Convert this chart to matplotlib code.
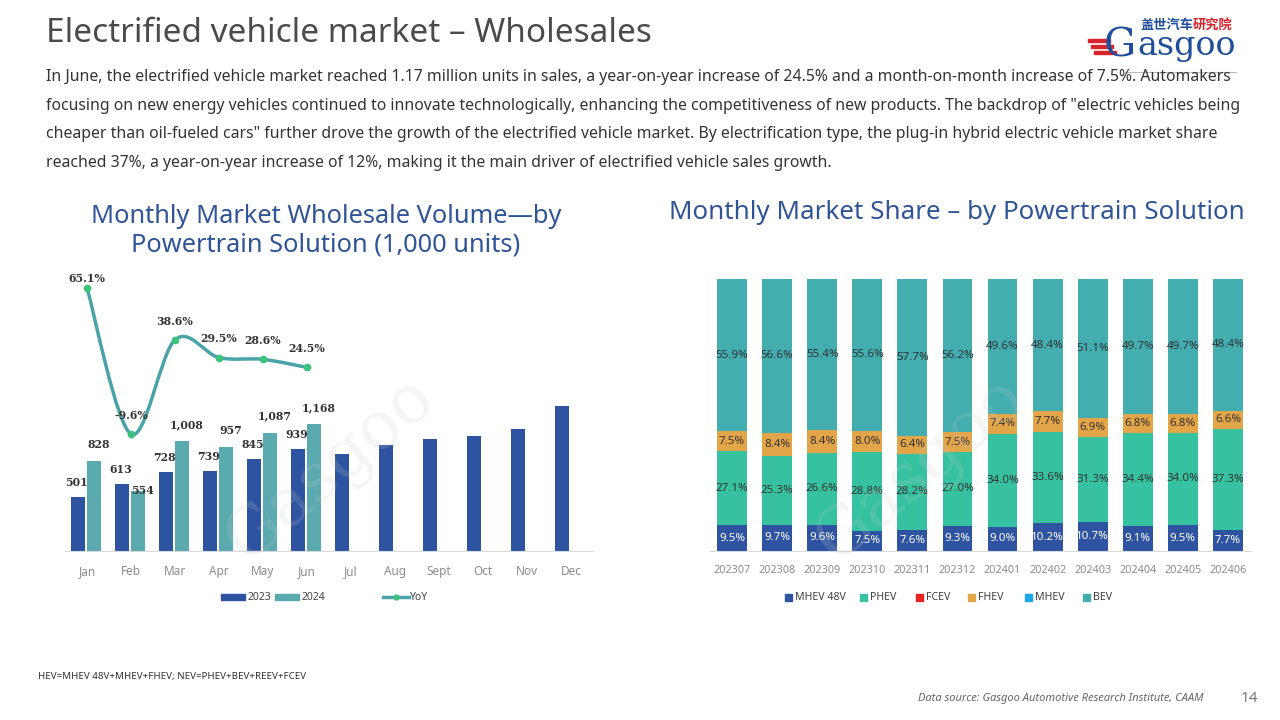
import matplotlib
matplotlib.use("Agg")
import matplotlib.pyplot as plt
import numpy as np
from matplotlib.path import Path
from matplotlib.patches import PathPatch, Rectangle
from matplotlib.lines import Line2D

plt.rcParams['font.family'] = ['Noto Sans', 'DejaVu Sans']

# ---------------- data ----------------
months = ['Jan', 'Feb', 'Mar', 'Apr', 'May', 'Jun', 'Jul', 'Aug', 'Sept', 'Oct', 'Nov', 'Dec']
vol_2023 = [501, 613, 728, 739, 845, 939, 892, 975, 1030, 1058, 1122, 1334]
vol_2023_labeled = 6
vol_2024 = [828, 554, 1008, 957, 1087, 1168]
yoy = [65.1, -9.6, 38.6, 29.5, 28.6, 24.5]

periods = ['202307', '202308', '202309', '202310', '202311', '202312',
           '202401', '202402', '202403', '202404', '202405', '202406']
share_mhev48 = [9.5, 9.7, 9.6, 7.5, 7.6, 9.3, 9.0, 10.2, 10.7, 9.1, 9.5, 7.7]
share_phev = [27.1, 25.3, 26.6, 28.8, 28.2, 27.0, 34.0, 33.6, 31.3, 34.4, 34.0, 37.3]
share_fcev = [0] * 12
share_fhev = [7.5, 8.4, 8.4, 8.0, 6.4, 7.5, 7.4, 7.7, 6.9, 6.8, 6.8, 6.6]
share_mhev = [0] * 12
share_bev = [55.9, 56.6, 55.4, 55.6, 57.7, 56.2, 49.6, 48.4, 51.1, 49.7, 49.7, 48.4]
share_series = ['MHEV 48V', 'PHEV', 'FCEV', 'FHEV', 'MHEV', 'BEV']

W, H = 1280, 720
fig = plt.figure(figsize=(12.8, 7.2), dpi=100)

def px_axes(x0, y0, x1, y1):
    return fig.add_axes([x0 / W, 1 - y1 / H, (x1 - x0) / W, (y1 - y0) / H])

def ftext(x, y, s, **kw):
    return fig.text(x / W, 1 - y / H, s, **kw)

# ---------------- header ----------------
ftext(46, 34, 'Electrified vehicle market – Wholesales', fontsize=24, color='#4A4A4A',
      va='center', ha='left', weight='light')
para = [
    'In June, the electrified vehicle market reached 1.17 million units in sales, a year-on-year increase of 24.5% and a month-on-month increase of 7.5%. Automakers',
    'focusing on new energy vehicles continued to innovate technologically, enhancing the competitiveness of new products. The backdrop of "electric vehicles being',
    'cheaper than oil-fueled cars" further drove the growth of the electrified vehicle market. By electrification type, the plug-in hybrid electric vehicle market share',
    'reached 37%, a year-on-year increase of 12%, making it the main driver of electrified vehicle sales growth.',
]
for i, line in enumerate(para):
    ftext(46, 77 + i * 28.7, line, fontsize=11.37, color='#333333', va='center', ha='left')

# logo
ftext(1140, 25, '盖世汽车', fontsize=9.5, color='#1F4E9A', va='center', ha='left',
      family=['Noto Sans CJK SC'], weight='bold')
ftext(1193, 25, '研究院', fontsize=9.5, color='#D7232A', va='center', ha='left',
      family=['Noto Sans CJK SC'], weight='bold')
ftext(1236, 46, 'asgoo', fontsize=24, color='#1F4E9A', va='center', ha='right',
      family=['DejaVu Serif'])
ftext(1104, 46, 'G', fontsize=29, color='#1F4E9A', va='center', ha='left',
      family=['DejaVu Serif'])
for k in range(3):
    fig.patches.append(Rectangle(((1088 + k * 3) / W, 1 - (42 + k * 6) / H), 22 / W, 3 / H,
                                 transform=fig.transFigure, color='#D7232A'))
fig.lines.append(Line2D([1125 / W, 1236 / W], [1 - 72 / H, 1 - 72 / H],
                        transform=fig.transFigure, color='#BBBBBB', lw=0.8))

# ---------------- left chart ----------------
c23, c24, cline, cmark = '#2E54A1', '#5BAAB0', '#4AA3A8', '#3DC27C'
title_col = '#2F5597'
ftext(326, 216, 'Monthly Market Wholesale Volume—by', fontsize=18.3, color=title_col,
      ha='center', va='center')
ftext(326, 245, 'Powertrain Solution (1,000 units)', fontsize=18.3, color=title_col,
      ha='center', va='center')

axL = px_axes(65, 270, 593, 551)
x = np.arange(len(months))
bw = 0.32
axL.bar(x - 0.2, vol_2023, width=bw, color=c23, zorder=2)
axL.bar(x[:len(vol_2024)] + 0.16, vol_2024, width=bw, color=c24, zorder=2)
axL.set_xlim(-0.5, 11.5)
axL.set_ylim(0, 2585)
for s in ['top', 'right', 'left']:
    axL.spines[s].set_visible(False)
axL.spines['bottom'].set_color('#D9D9D9')
axL.set_yticks([])
axL.set_xticks(x)
axL.set_xticklabels(months, fontsize=8.5, color='#8C8C8C')
axL.tick_params(axis='x', length=0, pad=10)
axL.patch.set_alpha(0)

lab_font = dict(family=['DejaVu Serif'], fontsize=7.8, weight='bold', color='#333333')
for i in range(vol_2023_labeled):
    axL.annotate(f'{vol_2023[i]:,}', (x[i] - 0.24, vol_2023[i]), xytext=(0, 6.5),
                 textcoords='offset points', ha='center', va='bottom', **lab_font)
for i, v in enumerate(vol_2024):
    axL.annotate(f'{v:,}', (x[i] + 0.26, v), xytext=(0, 8 if i != 1 else -4),
                 textcoords='offset points', ha='center', va='bottom', **lab_font)

axY = axL.twinx()
axY.set_ylim(-69.4, 74.3)
axY.set_yticks([])
for s in axY.spines.values():
    s.set_visible(False)

# smoothed line (Catmull-Rom -> cubic Bezier) through the YoY points
pts = np.column_stack([x[:len(yoy)], yoy]).astype(float)
verts = [tuple(pts[0])]
codes = [Path.MOVETO]
for i in range(len(pts) - 1):
    p0 = pts[i - 1] if i > 0 else pts[i]
    p1, p2 = pts[i], pts[i + 1]
    p3 = pts[i + 2] if i + 2 < len(pts) else pts[i + 1]
    verts += [tuple(p1 + (p2 - p0) / 6), tuple(p2 - (p3 - p1) / 6), tuple(p2)]
    codes += [Path.CURVE4] * 3
axY.add_patch(PathPatch(Path(verts, codes), facecolor='none', edgecolor=cline, lw=2.5, zorder=3))
axY.plot(x[:len(yoy)], yoy, 'o', color=cmark, ms=4.5, zorder=4)
for i, v in enumerate(yoy):
    axY.annotate(f'{v}%', (x[i], v), xytext=(0, 3 if i == 0 else 9.5), textcoords='offset points',
                 ha='center', va='bottom', **lab_font)

# left legend
fig.patches.append(Rectangle((221 / W, 1 - 600 / H), 24 / W, 6 / H, transform=fig.transFigure, color=c23))
ftext(248, 597, '2023', fontsize=7.5, color='#404040', va='center')
fig.patches.append(Rectangle((275 / W, 1 - 600 / H), 24 / W, 6 / H, transform=fig.transFigure, color=c24))
ftext(302, 597, '2024', fontsize=7.5, color='#404040', va='center')
fig.lines.append(Line2D([383 / W, 409 / W], [1 - 597 / H] * 2, transform=fig.transFigure, color=cline, lw=2.5))
fig.lines.append(Line2D([396 / W], [1 - 597 / H], transform=fig.transFigure, color=cmark, marker='o', ms=3.5, lw=0))
ftext(410, 597, 'YoY', fontsize=7.5, color='#404040', va='center')

# ---------------- right chart ----------------
ftext(957, 212, 'Monthly Market Share – by Powertrain Solution', fontsize=18.7, color=title_col,
      ha='center', va='center')
axR = px_axes(709.5, 279, 1250.5, 551)
colors = ['#2E54A1', '#36C2A0', '#E8221E', '#E2A548', '#1AA7E6', '#43ADB0']
data = [share_mhev48, share_phev, share_fcev, share_fhev, share_mhev, share_bev]
xr = np.arange(len(periods))
bottom = np.zeros(len(periods))
for k, (name, vals, col) in enumerate(zip(share_series, data, colors)):
    vals = np.array(vals, dtype=float)
    axR.bar(xr, vals, width=0.66, bottom=bottom, color=col, label=name, zorder=2)
    if vals.sum() > 0:
        for i, v in enumerate(vals):
            tc = 'white' if k == 0 else '#333333'
            axR.text(xr[i], bottom[i] + v / 2, f'{v:.1f}%', ha='center', va='center',
                     fontsize=8.3, color=tc, weight='normal' if k else 'bold')
    bottom += vals
axR.set_xlim(-0.5, 11.5)
axR.set_ylim(0, 100)
for s in ['top', 'right', 'left']:
    axR.spines[s].set_visible(False)
axR.spines['bottom'].set_color('#D9D9D9')
axR.set_yticks([])
axR.set_xticks(xr)
axR.set_xticklabels(periods, fontsize=7.8, color='#8C8C8C')
axR.tick_params(axis='x', length=0, pad=10)
axR.patch.set_alpha(0)

leg_x = [787, 862, 918, 970, 1027, 1085]
for lx, name, col in zip(leg_x, share_series, colors):
    fig.patches.append(Rectangle(((lx - 2) / W, 1 - 601 / H), 7 / W, 7 / H, transform=fig.transFigure, color=col))
    ftext(lx + 8, 597, name, fontsize=7.6, color='#404040', va='center')

# faint watermarks
for wx, wy in [(330, 470), (920, 470)]:
    ftext(wx, wy, 'Gasgoo', fontsize=48, color='#C8C8C8', alpha=0.18, rotation=40,
          ha='center', va='center', family=['DejaVu Serif'])

# ---------------- footer ----------------
ftext(38, 677, 'HEV=MHEV 48V+MHEV+FHEV; NEV=PHEV+BEV+REEV+FCEV', fontsize=7, color='#333333', va='center')
ftext(1204, 698, 'Data source: Gasgoo Automotive Research Institute, CAAM', fontsize=8, color='#666666',
      style='italic', va='center', ha='right')
ftext(1258, 698, '14', fontsize=11, color='#777777', va='center', ha='right')

fig.savefig('out.png', dpi=100)
